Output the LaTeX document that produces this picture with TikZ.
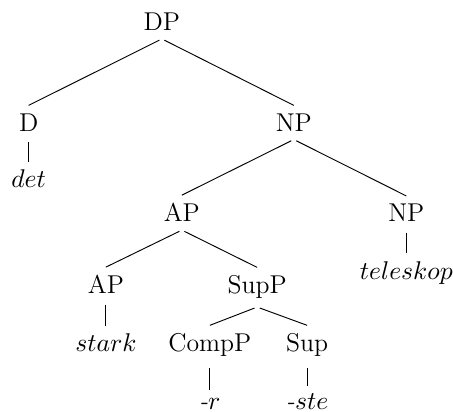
\documentclass[tikz,border=0pt]{standalone}
\begin{document}
\begin{tikzpicture}[scale=1, every node/.style={anchor=base, font=\fontsize{11}{13}\selectfont}, branch/.style={shorten <=1.2pt}]
        \useasboundingbox (0,0) rectangle (6.80,-6.18);
        % Upper levels
        % Define the nodes
        \node (DP) at (2.43,-0.46) {DP};
        \node (D) at (0.43,-1.97) {D};
        \node (NP) at (4.41,-1.97) {NP};
        \node (det) at (0.43,-2.82) {$det$};
        % Connect the nodes
        \draw[branch] (DP.south) -- (D.north);
        \draw[branch] (DP.south) -- (NP.north);
        \draw[branch] (D.south) -- (det.north);

        % Noun phrase
        % Define the nodes
        \node (AP) at (2.73,-3.33) {AP};
        \node (NPn) at (6.10,-3.33) {NP};
        \node (teleskop) at (6.10,-4.19) {$teleskop$};
        % Connect the nodes
        \draw[branch] (NP.south) -- (AP.north);
        \draw[branch] (NP.south) -- (NPn.north);
        \draw[branch] (NPn.south) -- (teleskop.north);

        % Adjective phrase
        % Define the nodes
        \node (APa) at (1.59,-4.41) {AP};
        \node (SupP) at (3.86,-4.41) {SupP};
        \node (stark) at (1.59,-5.28) {$stark$};
        \node (CompP) at (3.15,-5.28) {CompP};
        \node (Sup) at (4.61,-5.28) {Sup};
        \node (r) at (3.15,-6.15) {\textit{-}$r$};
        \node (ste) at (4.61,-6.15) {\textit{-}$ste$};
        % Connect the nodes
        \draw[branch] (AP.south) -- (APa.north);
        \draw[branch] (AP.south) -- (SupP.north);
        \draw[branch] (APa.south) -- (stark.north);
        \draw[branch] (SupP.south) -- (CompP.north);
        \draw[branch] (SupP.south) -- (Sup.north);
        \draw[branch] (CompP.south) -- (r.north);
        \draw[branch] (Sup.south) -- (ste.north);
    \end{tikzpicture}
\end{document}
